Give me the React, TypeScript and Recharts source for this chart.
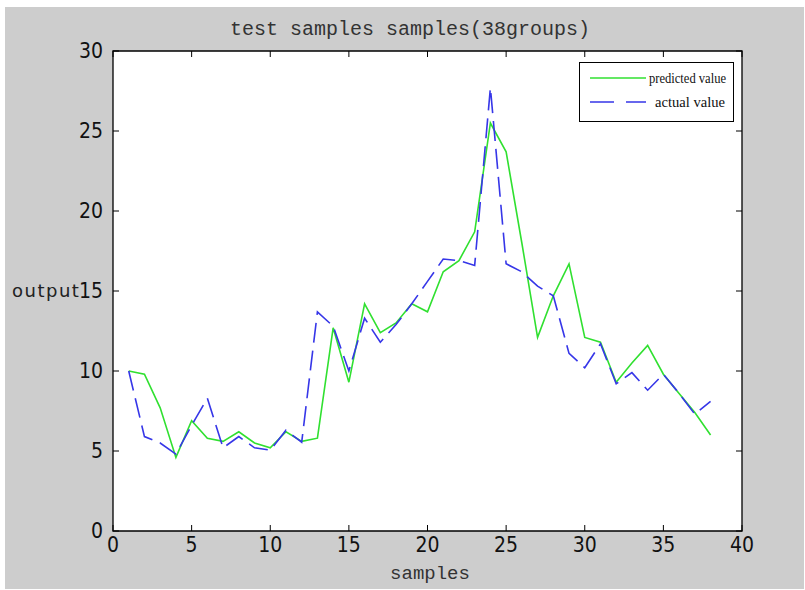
import React from 'react';
import { LineChart, Line, XAxis, YAxis, ReferenceArea, Legend, CartesianGrid } from 'recharts';

const samples = [1, 2, 3, 4, 5, 6, 7, 8, 9, 10, 11, 12, 13, 14, 15, 16, 17, 18, 19, 20, 21, 22, 23, 24, 25, 26, 27, 28, 29, 30, 31, 32, 33, 34, 35, 36, 37, 38];
const predicted = [10.0, 9.8, 7.7, 4.6, 6.9, 5.8, 5.6, 6.2, 5.5, 5.2, 6.2, 5.6, 5.8, 12.7, 9.3, 14.2, 12.4, 13.0, 14.2, 13.7, 16.2, 16.9, 18.7, 25.5, 23.7, 18.0, 12.1, 14.7, 16.7, 12.1, 11.8, 9.3, 10.5, 11.6, 9.8, 8.6, 7.4, 6.0];
const actual = [10.0, 5.9, 5.5, 4.8, 6.6, 8.3, 5.2, 5.9, 5.2, 5.05, 6.3, 5.55, 13.7, 12.8, 10.0, 13.3, 11.8, 12.9, 14.2, 15.6, 17.0, 16.9, 16.6, 27.7, 16.7, 16.2, 15.3, 14.7, 11.1, 10.2, 11.7, 9.2, 9.9, 8.8, 9.8, 8.6, 7.3, 8.1];
const xTicks = [0, 5, 10, 15, 20, 25, 30, 35, 40];
const yTicks = [0, 5, 10, 15, 20, 25, 30];
const seriesNames = ['predicted value', 'actual value'];

const data = samples.map((s, i) => ({ x: s, predicted: predicted[i], actual: actual[i] }));

const W = 805;
const H = 590;
const MARGIN = { top: 51, left: 112, right: 63, bottom: 58 };
const PLOT_TOP = MARGIN.top;
const PLOT_RIGHT = W - MARGIN.right;

const GREEN = '#30e030';
const BLUE = '#3636e8';
const tickFont = '"Liberation Sans Narrow", "DejaVu Sans Condensed", "Arial Narrow", sans-serif';

const BottomTick = (props: any) => {
  const { x, y, payload } = props;
  return (
    <g>
      <line x1={x} y1={y} x2={x} y2={y - 6} stroke="#000" strokeWidth={1} />
      <line x1={x} y1={PLOT_TOP} x2={x} y2={PLOT_TOP + 6} stroke="#000" strokeWidth={1} />
      <text x={x} y={y + 21} textAnchor="middle" fontFamily={tickFont} fontSize={21} fill="#111">
        {payload.value}
      </text>
    </g>
  );
};

const LeftTick = (props: any) => {
  const { x, y, payload } = props;
  return (
    <g>
      <line x1={x} y1={y} x2={x + 6} y2={y} stroke="#000" strokeWidth={1} />
      <line x1={PLOT_RIGHT} y1={y} x2={PLOT_RIGHT - 6} y2={y} stroke="#000" strokeWidth={1} />
      <text x={x - 10} y={y + 7} textAnchor="end" fontFamily={tickFont} fontSize={21} fill="#111">
        {payload.value}
      </text>
    </g>
  );
};

const LegendBox = () => (
  <svg width={158} height={61} style={{ display: 'block', overflow: 'visible' }}>
    <rect x={0.5} y={0.5} width={154} height={59} fill="#fff" stroke="#000" strokeWidth={1} />
    <line x1={11} y1={16} x2={67} y2={16} stroke={GREEN} strokeWidth={1.6} />
    <text x={70} y={21} fontFamily='"Liberation Serif", serif' fontSize={15} fill="#111" textLength={77} lengthAdjust="spacingAndGlyphs">
      {seriesNames[0]}
    </text>
    <line x1={11} y1={40} x2={67} y2={40} stroke={BLUE} strokeWidth={1.6} strokeDasharray="24 12" />
    <text x={76} y={45} fontFamily='"Liberation Serif", serif' fontSize={15} fill="#111" textLength={70} lengthAdjust="spacingAndGlyphs">
      {seriesNames[1]}
    </text>
  </svg>
);

export default function App() {
  return (
    <div style={{ position: 'absolute', left: 0, top: 0, width: W, height: H, background: '#fff', overflow: 'hidden' }}>
      <div style={{ position: 'absolute', left: 5, top: 7, width: 799, height: 582, background: '#cdcdcd' }} />
      <div
        style={{
          position: 'absolute', left: 0, top: 20, width: 820, textAlign: 'center',
          fontFamily: '"Liberation Mono", monospace', fontSize: 20, lineHeight: '20px', color: '#333', whiteSpace: 'nowrap',
        }}
      >
        test samples samples(38groups)
      </div>
      <div
        style={{
          position: 'absolute', left: 0, top: 564, width: 860, textAlign: 'center',
          fontFamily: '"Liberation Mono", monospace', fontSize: 19, lineHeight: '20px', color: '#333', whiteSpace: 'nowrap',
        }}
      >
        samples
      </div>
      <div
        style={{
          position: 'absolute', left: 12, top: 281, fontFamily: '"DejaVu Sans", sans-serif', fontSize: 18,
          lineHeight: '20px', letterSpacing: 1.5, color: '#222', whiteSpace: 'nowrap',
        }}
      >
        output
      </div>
      <div style={{ position: 'absolute', left: 0, top: 0 }}>
        <LineChart width={W} height={H} data={data} margin={MARGIN}>
          <CartesianGrid horizontal={false} vertical={false} fill="#fff" fillOpacity={1} />
          <XAxis dataKey="x" type="number" domain={[0, 40]} ticks={xTicks} interval={0} height={1}
            axisLine={false} tickLine={false} tickSize={0} tickMargin={0} tick={<BottomTick />} />
          <YAxis type="number" domain={[0, 30]} ticks={yTicks} interval={0} width={1}
            axisLine={false} tickLine={false} tickSize={0} tickMargin={0} tick={<LeftTick />} />
          <ReferenceArea x1={0} x2={40} y1={0} y2={30} fill="none" fillOpacity={0} stroke="#000" strokeWidth={1.3} />
          <Line type="linear" dataKey="predicted" name={seriesNames[0]} stroke={GREEN} strokeWidth={1.6} dot={false} isAnimationActive={false} />
          <Line type="linear" dataKey="actual" name={seriesNames[1]} stroke={BLUE} strokeWidth={1.6} strokeDasharray="20 8" dot={false} isAnimationActive={false} />
          <Legend layout="vertical" align="center" verticalAlign="middle" content={<LegendBox />}
            wrapperStyle={{ position: 'absolute', left: 579, top: 62, width: 158, height: 61, margin: 0 }} />
        </LineChart>
      </div>
    </div>
  );
}
